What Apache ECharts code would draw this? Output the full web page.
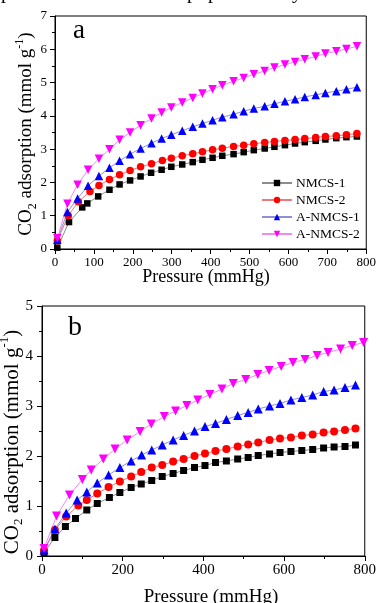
<!DOCTYPE html>
<html><head><meta charset="utf-8">
<script src="https://cdn.jsdelivr.net/npm/echarts@6/dist/echarts.min.js"></script>
<style>html,body{margin:0;padding:0;background:#fff}#c{width:379px;height:603px}</style>
</head><body><div id="c"></div>
<script>
// ---------- Data ----------
const seriesNames = ['NMCS-1', 'NMCS-2', 'A-NMCS-1', 'A-NMCS-2'];

// Panel a : pressure (mmHg) and CO2 adsorption (mmol/g)
const aPressure_NMCS1 = [6,36,70,83,111,140,166,193,220,247,274,299,327,354,379,405,430,459,485,511,539,564,591,617,642,670,695,723,749,776];
const aValue_NMCS1 = [0.04,0.81,1.25,1.37,1.58,1.78,1.94,2.06,2.18,2.29,2.38,2.47,2.54,2.61,2.68,2.74,2.80,2.85,2.91,2.97,3.02,3.07,3.12,3.17,3.21,3.25,3.29,3.33,3.36,3.38];
const aPressure_NMCS2 = [6,34,60,90,113,140,166,193,220,248,276,299,327,354,379,405,430,459,485,511,539,564,591,617,642,670,695,723,749,776];
const aValue_NMCS2 = [0.25,1.00,1.42,1.73,1.91,2.09,2.23,2.36,2.47,2.56,2.66,2.73,2.80,2.86,2.92,2.98,3.03,3.08,3.12,3.16,3.20,3.23,3.26,3.29,3.32,3.35,3.38,3.40,3.43,3.47];
const aPressure_ANMCS1 = [6,32,58,85,113,140,166,193,220,248,274,299,327,354,379,405,430,459,485,511,539,564,591,617,642,670,695,723,749,776];
const aValue_ANMCS1 = [0.28,1.11,1.52,1.90,2.19,2.44,2.65,2.85,3.02,3.18,3.32,3.43,3.55,3.67,3.77,3.87,3.96,4.05,4.14,4.22,4.29,4.36,4.44,4.50,4.57,4.63,4.69,4.74,4.80,4.86];
const aPressure_ANMCS2 = [6,32,58,85,113,140,166,193,220,248,274,299,327,354,379,405,430,459,485,511,539,564,591,617,642,670,695,723,749,776];
const aValue_ANMCS2 = [0.32,1.36,1.93,2.38,2.71,3.00,3.28,3.50,3.72,3.92,4.10,4.25,4.40,4.54,4.67,4.80,4.92,5.04,5.14,5.25,5.35,5.45,5.54,5.62,5.70,5.78,5.87,5.94,6.01,6.09];

// Panel b
const bPressure_NMCS1 = [5,32,58,83,111,137,167,193,221,246,272,298,325,351,378,404,430,457,485,511,536,564,590,617,644,671,698,724,751,777];
const bValue_NMCS1 = [0.07,0.37,0.59,0.75,0.92,1.05,1.17,1.27,1.37,1.44,1.51,1.59,1.65,1.71,1.77,1.81,1.87,1.90,1.94,1.97,2.01,2.04,2.07,2.09,2.11,2.13,2.16,2.18,2.19,2.22];
const bPressure_NMCS2 = [5,32,60,90,111,137,165,193,221,246,272,298,325,351,378,404,430,457,485,511,536,564,590,617,644,671,698,724,751,777];
const bValue_NMCS2 = [0.11,0.52,0.79,1.01,1.12,1.25,1.38,1.49,1.59,1.68,1.77,1.82,1.89,1.94,2.00,2.05,2.10,2.14,2.19,2.23,2.27,2.32,2.35,2.37,2.41,2.43,2.47,2.49,2.52,2.55];
const bPressure_ANMCS1 = [5,32,60,87,111,137,165,193,221,247,272,298,325,351,378,404,430,457,485,511,536,564,590,617,644,671,698,724,751,777];
const bValue_ANMCS1 = [0.12,0.54,0.86,1.12,1.28,1.46,1.62,1.77,1.90,2.02,2.12,2.22,2.32,2.41,2.50,2.59,2.65,2.73,2.81,2.87,2.94,3.00,3.05,3.12,3.17,3.22,3.29,3.32,3.37,3.42];
const bPressure_ANMCS2 = [5,36,68,100,122,152,181,211,243,271,303,331,359,386,416,446,474,505,535,563,593,622,652,682,709,740,769,797];
const bValue_ANMCS2 = [0.15,0.80,1.22,1.53,1.72,1.94,2.14,2.32,2.49,2.64,2.79,2.90,3.01,3.12,3.23,3.34,3.45,3.53,3.63,3.71,3.79,3.87,3.93,4.01,4.07,4.14,4.21,4.27];

// Axis ticks
const aYTicks = [0,1,2,3,4,5,6,7];
const aXTicks = [0,100,200,300,400,500,600,700,800];
const bYTicks = [0,1,2,3,4,5];
const bXTicks = [0,200,400,600,800];

// ---------- Styles ----------
const FONT = "'Liberation Serif', 'Times New Roman', serif";
const styles = [
  {symbol: 'rect', rotate: 0, color: '#000000', line: '#8c8c8c', size: [6.5, 7]},
  {symbol: 'circle', rotate: 0, color: '#ff0000', line: '#ec7a7a', size: [7.5, 8]},
  {symbol: 'triangle', rotate: 0, color: '#0000ff', line: '#8f8fd6', size: [8.5, 9]},
  {symbol: 'triangle', rotate: 180, color: '#ff00ff', line: '#ef8bef', size: [8.5, 9]}
];
const zip = (p, v) => p.map((x, i) => [x, v[i]]);
const panelA = [zip(aPressure_NMCS1, aValue_NMCS1), zip(aPressure_NMCS2, aValue_NMCS2), zip(aPressure_ANMCS1, aValue_ANMCS1), zip(aPressure_ANMCS2, aValue_ANMCS2)];
const panelB = [zip(bPressure_NMCS1, bValue_NMCS1), zip(bPressure_NMCS2, bValue_NMCS2), zip(bPressure_ANMCS1, bValue_ANMCS1), zip(bPressure_ANMCS2, bValue_ANMCS2)];

function mkSeries(data, gi, k) {
  const s = styles[k];
  return {
    type: 'line', name: seriesNames[k], xAxisIndex: gi, yAxisIndex: gi,
    data: data, symbol: s.symbol, symbolRotate: s.rotate, symbolSize: s.size[gi],
    showAllSymbol: true, silent: true,
    itemStyle: {color: s.color},
    lineStyle: {color: s.line, width: 1}
  };
}
function axisCommon(fs, margin) {
  return {
    axisLine: {show: true, onZero: false, lineStyle: {color: '#000', width: 1}},
    axisTick: {show: true, inside: false, length: 5, lineStyle: {color: '#000', width: 1}},
    minorTick: {show: true, splitNumber: 2, length: 3, lineStyle: {color: '#000', width: 1}},
    splitLine: {show: false},
    axisLabel: {color: '#000', fontFamily: FONT, fontSize: fs, margin: margin}
  };
}
function xAxis(gi, ticks, fs, margin) {
  return Object.assign({type: 'value', gridIndex: gi, min: ticks[0], max: ticks[ticks.length - 1],
    interval: ticks[1] - ticks[0]}, axisCommon(fs, margin));
}
function yAxis(gi, ticks, fs, margin) {
  return Object.assign({type: 'value', gridIndex: gi, min: ticks[0], max: ticks[ticks.length - 1],
    interval: ticks[1] - ticks[0]}, axisCommon(fs, margin));
}
function yName(x, y, fs, sub) {
  return {
    type: 'text', x: x, y: y, rotation: Math.PI / 2, silent: true,
    style: {
      text: '{m|CO}{s|2}{m| adsorption (mmol g}{p|-1}{m|)}',
      align: 'center', verticalAlign: 'middle',
      rich: {
        m: {fontFamily: FONT, fontSize: fs, lineHeight: fs + 6, fill: '#000'},
        s: {fontFamily: FONT, fontSize: sub, lineHeight: sub - 1, verticalAlign: 'bottom', fill: '#000'},
        p: {fontFamily: FONT, fontSize: sub, lineHeight: sub - 1, verticalAlign: 'top', fill: '#000'}
      }
    }
  };
}
function txt(x, y, s, fs) {
  return {type: 'text', x: x, y: y, silent: true,
    style: {text: s, fontFamily: FONT, fontSize: fs, fill: '#000', align: 'center', verticalAlign: 'middle'}};
}

const chart = echarts.init(document.getElementById('c'), null, {renderer: 'canvas'});
chart.setOption({
  animation: false,
  backgroundColor: '#fff',
  grid: [
    {left: 55, top: 16, right: 10, bottom: 354, show: true, borderColor: '#000', borderWidth: 1, containLabel: false},
    {left: 42, top: 306, right: 1, bottom: 47, show: true, borderColor: '#000', borderWidth: 1, containLabel: false}
  ],
  xAxis: [xAxis(0, aXTicks, 13, 7), xAxis(1, bXTicks, 15, 7)],
  yAxis: [yAxis(0, aYTicks, 13, 8), yAxis(1, bYTicks, 15, 9)],
  legend: {
    orient: 'vertical', left: 256, top: 171, itemWidth: 30, itemHeight: 8, itemGap: 3,
    data: seriesNames, selectedMode: false,
    textStyle: {fontFamily: FONT, fontSize: 13.5, color: '#000', lineHeight: 14, padding: [0, 0, 0, -1]}
  },
  series: [
    ...panelA.map((d, k) => mkSeries(d, 0, k)),
    ...panelB.map((d, k) => mkSeries(d, 1, k))
  ],
  graphic: [
    txt(79, 31, 'a', 27),
    txt(75, 328, 'b', 28),
    txt(206, 277, 'Pressure (mmHg)', 18),
    txt(211, 597, 'Pressure (mmHg)', 19),
    yName(26, 134, 19, 12),
    yName(12, 442, 21, 13),
    {type: 'text', x: 1, y: -7.5, silent: true, style: {text: 'p', fontFamily: FONT, fontSize: 20, fill: '#000', verticalAlign: 'middle'}},
    {type: 'text', x: 187, y: -7.5, silent: true, style: {text: 'p', fontFamily: FONT, fontSize: 20, fill: '#000', verticalAlign: 'middle'}},
    {type: 'text', x: 208, y: -7.5, silent: true, style: {text: 'p', fontFamily: FONT, fontSize: 20, fill: '#000', verticalAlign: 'middle'}},
    {type: 'text', x: 292, y: -7.5, silent: true, style: {text: 'y', fontFamily: FONT, fontSize: 20, fill: '#000', verticalAlign: 'middle'}}
  ]
});
</script>
</body></html>
